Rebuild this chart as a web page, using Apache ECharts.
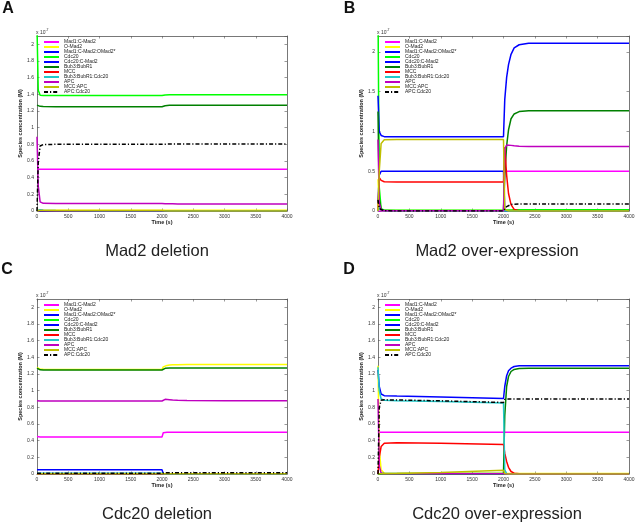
<!DOCTYPE html>
<html><head><meta charset="utf-8">
<script src="https://cdn.jsdelivr.net/npm/echarts@6/dist/echarts.min.js"></script>
<style>html,body{margin:0;padding:0;background:#fff}#c{width:638px;height:525px}</style>
</head><body><div id="c"></div>
<script>
// shared time grid (s)
const time = [0, 20, 50, 100, 300, 1000, 2000, 2020, 2050, 2080, 2120, 2170, 2250, 2400, 3000, 4000];

const seriesNames = ['Mad1:C-Mad2','O-Mad2','Mad1:C-Mad2:OMad2*','Cdc20','Cdc20:C-Mad2','Bub3:BubR1','MCC','Bub3:BubR1:Cdc20','APC','MCC:APC','APC:Cdc20'];

// ---- Panel A: Mad2 deletion (x 1e-7 M)
const mad1CMad2_A      = [0.5,0.5,0.5,0.5,0.5,0.5,0.5,0.5,0.5,0.5,0.5,0.5,0.5,0.5,0.5,0.5];
const oMad2_A          = [0.008,0.008,0.008,0.008,0.008,0.008,0.008,0.008,0.008,0.008,0.008,0.008,0.008,0.008,0.008,0.008];
const mad1CMad2OMad2_A = [0,0,0,0,0,0,0,0,0,0,0,0,0,0,0,0];
const cdc20_A          = [2.2,1.45,1.39,1.385,1.385,1.385,1.385,1.388,1.392,1.394,1.395,1.395,1.395,1.395,1.395,1.395];
const cdc20CMad2_A     = [0,0,0,0,0,0,0,0,0,0,0,0,0,0,0,0];
const bub3BubR1_A      = [1.27,1.262,1.256,1.253,1.252,1.252,1.252,1.258,1.264,1.267,1.268,1.269,1.269,1.269,1.269,1.269];
const mcc_A            = [0,0.01,0.008,0.005,0.004,0.004,0.004,0.002,0.001,0,0,0,0,0,0,0];
const bub3BubR1Cdc20_A = [0,0.02,0.015,0.01,0.006,0.004,0.004,0.002,0.001,0.001,0,0,0,0,0,0];
const apc_A            = [0.89,0.3,0.11,0.092,0.09,0.09,0.09,0.089,0.088,0.087,0.086,0.086,0.085,0.085,0.085,0.085];
const mccApc_A         = [0,0.005,0.005,0.005,0.005,0.005,0.005,0.003,0.002,0.001,0,0,0,0,0,0];
const apcCdc20_A       = [0,0.59,0.78,0.798,0.8,0.8,0.8,0.801,0.802,0.803,0.804,0.805,0.805,0.805,0.805,0.805];

// ---- Panel B: Mad2 over-expression
const mad1CMad2_B      = [0,0,0,0,0,0,0,0.5,0.5,0.5,0.5,0.5,0.5,0.5,0.5,0.5];
const oMad2_B          = [0.4,0.05,0.01,0.005,0.005,0.005,0.005,0.005,0.005,0.005,0.005,0.005,0.005,0.005,0.005,0.005];
const mad1CMad2OMad2_B = [0.1,0.45,0.5,0.5,0.5,0.5,0.5,0,0,0,0,0,0,0,0,0];
const cdc20_B          = [2.5,0.3,0.03,0.01,0.01,0.01,0.01,0.01,0.012,0.013,0.014,0.015,0.015,0.015,0.015,0.015];
const cdc20CMad2_B     = [1.45,1.0,0.95,0.935,0.935,0.935,0.935,1.4,1.68,1.84,1.97,2.05,2.09,2.11,2.11,2.11];
const bub3BubR1_B      = [1.25,0.15,0.02,0.005,0.003,0.003,0.003,0.45,0.82,1.02,1.16,1.22,1.25,1.26,1.26,1.26];
const mcc_B            = [0,0.42,0.385,0.368,0.365,0.365,0.365,0.8,0.45,0.22,0.08,0.02,0.003,0,0,0];
const bub3BubR1Cdc20_B = [0,0.05,0.01,0.003,0.002,0.002,0.002,0,0,0,0,0,0,0,0,0];
const apc_B            = [0.9,0.1,0.01,0.003,0.002,0.002,0.002,0.78,0.83,0.83,0.825,0.82,0.815,0.81,0.81,0.81];
const mccApc_B         = [0,0.5,0.85,0.895,0.9,0.9,0.9,0.02,0.005,0,0,0,0,0,0,0];
const apcCdc20_B       = [0.14,0.03,0.005,0.002,0.001,0.001,0.001,0.02,0.055,0.072,0.082,0.086,0.088,0.088,0.088,0.088];

// ---- Panel C: Cdc20 deletion
const mad1CMad2_C      = [0.45,0.445,0.445,0.445,0.445,0.445,0.445,0.495,0.498,0.5,0.5,0.5,0.5,0.5,0.5,0.5];
const oMad2_C          = [1.28,1.265,1.258,1.256,1.255,1.255,1.255,1.285,1.297,1.303,1.307,1.31,1.312,1.313,1.313,1.313];
const mad1CMad2OMad2_C = [0.05,0.052,0.052,0.052,0.052,0.052,0.052,0.005,0.002,0.001,0,0,0,0,0,0];
const cdc20_C          = [0,0,0,0,0,0,0,0,0,0,0,0,0,0,0,0];
const cdc20CMad2_C     = [0,0,0,0,0,0,0,0,0,0,0,0,0,0,0,0];
const bub3BubR1_C      = [1.27,1.255,1.25,1.248,1.248,1.248,1.248,1.262,1.268,1.27,1.271,1.272,1.272,1.272,1.272,1.272];
const mcc_C            = [0,0.004,0.004,0.004,0.004,0.004,0.004,0.002,0.001,0,0,0,0,0,0,0];
const bub3BubR1Cdc20_C = [0.01,0.01,0.01,0.01,0.01,0.01,0.01,0.002,0,0,0,0,0,0,0,0];
const apc_C            = [0.88,0.877,0.876,0.876,0.876,0.876,0.876,0.893,0.896,0.894,0.891,0.887,0.884,0.881,0.88,0.88];
const mccApc_C         = [0,0.003,0.003,0.003,0.003,0.003,0.003,0.002,0.002,0.002,0.002,0.002,0.002,0.002,0.002,0.002];
const apcCdc20_C       = [0.01,0.01,0.01,0.01,0.01,0.01,0.01,0.015,0.015,0.015,0.015,0.015,0.015,0.015,0.015,0.015];

// ---- Panel D: Cdc20 over-expression
const mad1CMad2_D      = [0.5,0.5,0.5,0.5,0.5,0.5,0.5,0.5,0.5,0.5,0.5,0.5,0.5,0.5,0.5,0.5];
const oMad2_D          = [1.3,0.3,0.05,0.01,0.005,0.005,0.005,0.005,0.005,0.005,0.005,0.005,0.005,0.005,0.005,0.005];
const mad1CMad2OMad2_D = [0,0,0,0,0,0,0,0,0,0,0,0,0,0,0,0];
const cdc20_D          = [0,0.01,0.005,0.003,0.002,0.002,0.002,0.003,0.003,0.003,0.003,0.003,0.003,0.003,0.003,0.003];
const cdc20CMad2_D     = [1.25,1.05,0.96,0.94,0.935,0.925,0.905,1.05,1.18,1.24,1.27,1.29,1.298,1.3,1.3,1.3];
const bub3BubR1_D      = [0,0.005,0.005,0.005,0.005,0.005,0.005,0.7,1.05,1.17,1.23,1.255,1.265,1.268,1.268,1.268];
const mcc_D            = [0,0.2,0.33,0.37,0.376,0.37,0.355,0.25,0.15,0.08,0.03,0.01,0.002,0,0,0];
const bub3BubR1Cdc20_D = [1.28,1.0,0.9,0.885,0.88,0.87,0.852,0.05,0.005,0,0,0,0,0,0,0];
const apc_D            = [0.9,0.1,0.01,0.003,0.002,0.002,0.002,0,0,0,0,0,0,0,0,0];
const mccApc_D         = [0,0.001,0.002,0.003,0.006,0.018,0.045,0.003,0.001,0,0,0,0,0,0,0];
const apcCdc20_D       = [0,0.8,0.885,0.89,0.888,0.878,0.858,0.895,0.9,0.9,0.9,0.9,0.9,0.9,0.9,0.9];

const captions = ['Mad2 deletion','Mad2 over-expression','Cdc20 deletion','Cdc20 over-expression'];
const letters = ['A','B','C','D'];
const xTicks = {min:0, max:4000, interval:500};
const yMax = [2.1, 2.2, 2.1, 2.1];
const yInterval = [0.2, 0.5, 0.2, 0.2];

const panelValues = [
  [mad1CMad2_A,oMad2_A,mad1CMad2OMad2_A,cdc20_A,cdc20CMad2_A,bub3BubR1_A,mcc_A,bub3BubR1Cdc20_A,apc_A,mccApc_A,apcCdc20_A],
  [mad1CMad2_B,oMad2_B,mad1CMad2OMad2_B,cdc20_B,cdc20CMad2_B,bub3BubR1_B,mcc_B,bub3BubR1Cdc20_B,apc_B,mccApc_B,apcCdc20_B],
  [mad1CMad2_C,oMad2_C,mad1CMad2OMad2_C,cdc20_C,cdc20CMad2_C,bub3BubR1_C,mcc_C,bub3BubR1Cdc20_C,apc_C,mccApc_C,apcCdc20_C],
  [mad1CMad2_D,oMad2_D,mad1CMad2OMad2_D,cdc20_D,cdc20CMad2_D,bub3BubR1_D,mcc_D,bub3BubR1Cdc20_D,apc_D,mccApc_D,apcCdc20_D]
];

// ---- styling / layout
const colors = ['#ff00ff','#ffff00','#0000ff','#00ff00','#0000ff','#008000','#ff0000','#20c8c8','#bf00bf','#bfbf00','#000000'];
const gridBoxes = [
  {left:37, top:36, width:250, height:175},
  {left:378, top:36, width:251, height:175},
  {left:37, top:299, width:250, height:175},
  {left:378, top:299, width:251, height:175}
];
const FONT = '"Liberation Sans", Arial, sans-serif';
const axisCol = '#555';

const grid = [], xAxis = [], yAxis = [], series = [], legend = [], graphic = [];
gridBoxes.forEach((g, i) => {
  grid.push(Object.assign({show:false}, g));
  const common = {
    axisLine:{show:true, onZero:false, lineStyle:{color:axisCol, width:0.8}},
    axisTick:{show:true, inside:true, length:2.5, lineStyle:{color:axisCol, width:0.6}},
    splitLine:{show:false}
  };
  xAxis.push(Object.assign({gridIndex:i, type:'value', position:'bottom',
    name:'Time (s)', nameLocation:'middle', nameGap:6,
    nameTextStyle:{fontSize:5.5, fontWeight:'bold', color:'#222', fontFamily:FONT},
    axisLabel:{fontSize:5, color:'#333', margin:3, fontFamily:FONT, formatter: v => String(v)}}, xTicks, common));
  yAxis.push(Object.assign({gridIndex:i, type:'value', position:'left', min:0, max:yMax[i], interval:yInterval[i],
    name:'Species concentration (M)', nameLocation:'middle', nameGap:7,
    nameTextStyle:{fontSize:5.5, fontWeight:'bold', color:'#222', fontFamily:FONT},
    axisLabel:{fontSize:5, color:'#333', margin:3, showMaxLabel:false, fontFamily:FONT}}, common));
});
gridBoxes.forEach((g, i) => {
  const common = {
    axisLine:{show:true, onZero:false, lineStyle:{color:axisCol, width:0.8}},
    axisTick:{show:true, inside:true, length:2.5, lineStyle:{color:axisCol, width:0.6}},
    axisLabel:{show:false}, splitLine:{show:false}
  };
  xAxis.push(Object.assign({gridIndex:i, type:'value', position:'top'}, xTicks, common));
  yAxis.push(Object.assign({gridIndex:i, type:'value', position:'right', min:0, max:yMax[i], interval:yInterval[i]}, common));
});

panelValues.forEach((vals, i) => {
  vals.forEach((arr, s) => {
    series.push({
      type:'line', name:seriesNames[s], xAxisIndex:i, yAxisIndex:i,
      data: time.map((t, k) => [t, arr[k]]),
      symbol:'none', showSymbol:false, animation:false, clip:true,
      lineStyle:{color:colors[s], width:1.5, type: s === 10 ? [4,2,1.2,2] : 'solid'},
      itemStyle:{color:colors[s]}
    });
  });
  const g = gridBoxes[i];
  legend.push({
    left: g.left + 6, top: g.top + 3.5, orient:'vertical', itemGap:0, itemWidth:15, itemHeight:5,
    padding:0, selectedMode:false, data: seriesNames,
    itemStyle:{opacity:0, borderWidth:0},
    textStyle:{fontSize:5, lineHeight:5, color:'#222', fontFamily:FONT}
  });
  graphic.push({type:'text', x:g.left - 1, y:g.top - 4,
    style:{text:'{a|x 10}{b|-7}', verticalAlign:'middle', fill:'#333',
      rich:{a:{fontSize:5, fontFamily:FONT, fill:'#333', verticalAlign:'bottom', lineHeight:7},
            b:{fontSize:3.5, fontFamily:FONT, fill:'#333', verticalAlign:'top', lineHeight:7}}}});
});

const capPos = [[157,251],[497,251],[157,514],[497,514]];
const letPos = [[8,8.5],[349.5,8.5],[7,270],[349,270]];
captions.forEach((c, i) => {
  graphic.push({type:'text', x:capPos[i][0], y:capPos[i][1],
    style:{text:c, font:'16.5px ' + FONT, fill:'#222', align:'center', verticalAlign:'middle'}});
  graphic.push({type:'text', x:letPos[i][0], y:letPos[i][1],
    style:{text:letters[i], font:'bold 16px ' + FONT, fill:'#111', align:'center', verticalAlign:'middle'}});
});

const chart = echarts.init(document.getElementById('c'), null, {renderer:'canvas'});
chart.setOption({animation:false, backgroundColor:'#fff', grid, xAxis, yAxis, series, legend, graphic});
</script></body></html>
